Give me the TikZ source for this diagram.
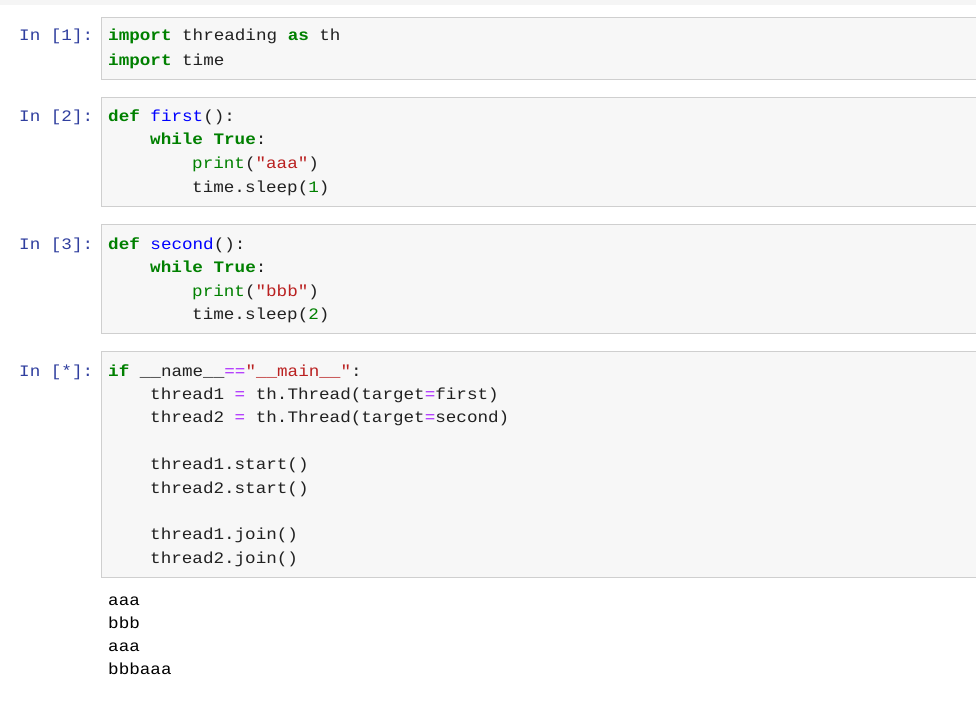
\documentclass[tikz,border=0pt]{standalone}
\usepackage{fontspec}
\newfontfamily\code[FakeStretch=1.1]{Liberation Mono}
\definecolor{kw}{RGB}{0,128,0}
\definecolor{st}{RGB}{186,33,33}
\definecolor{op}{RGB}{170,34,255}
\definecolor{fn}{RGB}{0,0,255}
\definecolor{pr}{RGB}{48,63,159}
\definecolor{tx}{RGB}{33,33,33}
\newcommand{\K}[1]{\textcolor{kw}{\bfseries #1}}
\newcommand{\Sg}[1]{\textcolor{st}{#1}}
\newcommand{\Op}[1]{\textcolor{op}{#1}}
\newcommand{\Fn}[1]{\textcolor{fn}{#1}}
\newcommand{\Nm}[1]{\textcolor{kw}{#1}}
\newcommand{\Q}{\char"22}
\tikzset{cellbox/.style={draw=black!19,fill=black!3,line width=0.8pt},
ln/.style={anchor=base west,inner sep=0pt,font=\code\fontsize{16}{18}\selectfont,text=tx},
prompt/.style={anchor=base west,inner sep=0pt,font=\code\fontsize{16}{18}\selectfont,text=pr}}
\begin{document}
\begin{tikzpicture}[x=1pt,y=-1pt]
\useasboundingbox[fill=white] (0,0) rectangle (976,701);
\fill[black!4] (0,0) rectangle (976,5);
\node[cellbox,minimum width=876pt,minimum height=62pt,anchor=north west] (c1) at (101,17) {};
\node[cellbox,minimum width=876pt,minimum height=109pt,anchor=north west] (c2) at (101,97) {};
\node[cellbox,minimum width=876pt,minimum height=109pt,anchor=north west] (c3) at (101,224) {};
\node[cellbox,minimum width=876pt,minimum height=226pt,anchor=north west] (c4) at (101,351) {};
\node[prompt] (p1) at (19,41) {In [1]:};
\node[prompt] (p2) at (19,121) {In [2]:};
\node[prompt] (p3) at (19,249) {In [3]:};
\node[prompt] (p4) at (19,376) {In [*]:};
\node[ln] (a1) at (108,41) {\K{import} threading \K{as} th};
\node[ln] (a2) at (108,65) {\K{import} time};
\node[ln] (b1) at (108,121) {\K{def} \Fn{first}():};
\node[ln] (b2) at (150,144) {\K{while} \K{True}:};
\node[ln] (b3) at (192,168) {\Nm{print}(\Sg{\Q aaa\Q})};
\node[ln] (b4) at (192,192) {time.sleep(\Nm{1})};
\node[ln] (d1) at (108,249) {\K{def} \Fn{second}():};
\node[ln] (d2) at (150,272) {\K{while} \K{True}:};
\node[ln] (d3) at (192,296) {\Nm{print}(\Sg{\Q bbb\Q})};
\node[ln] (d4) at (192,319) {time.sleep(\Nm{2})};
\node[ln] (e1) at (108,376) {\K{if} \_\_name\_\_\Op{==}\Sg{\Q\_\_main\_\_\Q}:};
\node[ln] (e2) at (150,399) {thread1 \Op{=} th.Thread(target\Op{=}first)};
\node[ln] (e3) at (150,422) {thread2 \Op{=} th.Thread(target\Op{=}second)};
\node[ln] (e4) at (150,469) {thread1.start()};
\node[ln] (e5) at (150,493) {thread2.start()};
\node[ln] (e6) at (150,539) {thread1.join()};
\node[ln] (e7) at (150,563) {thread2.join()};
\node[ln,text=black] (o1) at (108,605) {aaa};
\node[ln,text=black] (o2) at (108,628) {bbb};
\node[ln,text=black] (o3) at (108,651) {aaa};
\node[ln,text=black] (o4) at (108,674) {bbbaaa};
\end{tikzpicture}
\end{document}
